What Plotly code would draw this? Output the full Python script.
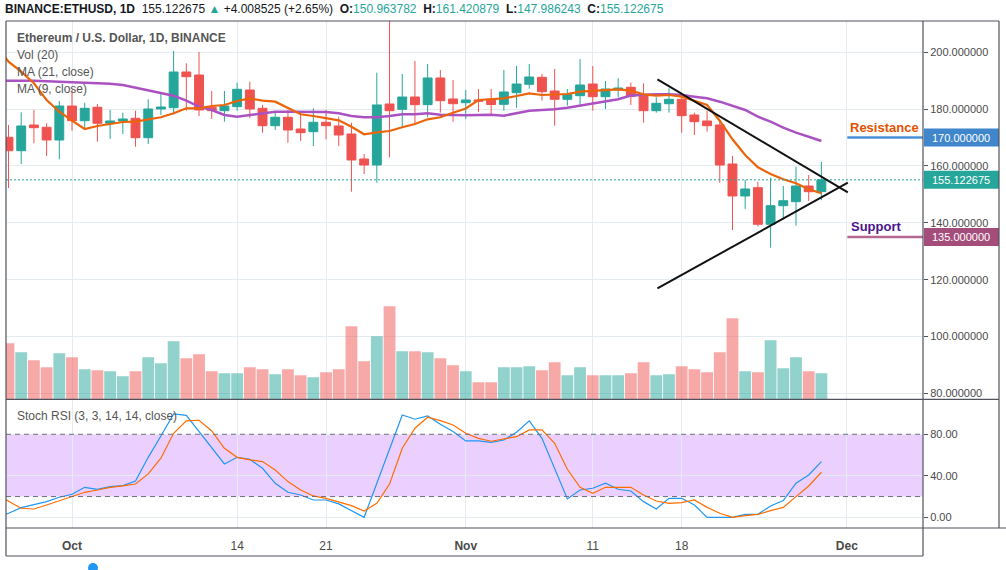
import plotly.graph_objects as go
import pandas as pd

# ---------------- data ----------------
dates = pd.date_range("2019-09-26", "2019-11-29", freq="D")
ind_dates = pd.date_range("2019-09-25", "2019-11-29", freq="D")

open_ = [170.09, 165.37, 174.42, 173.61, 169.14,
         181.10, 175.93, 180.65, 175.02, 175.83, 176.78, 169.95, 180.05, 180.51, 193.07,
         192.01, 180.65, 179.45, 180.86, 186.73, 180.29, 174.17, 177.13, 173.01, 172.06,
         175.37, 174.07, 171.25, 162.45, 160.34, 181.81, 179.94, 184.27, 181.56, 190.96, 183.57,
         182.26, 183.22, 183.46, 181.70, 185.78, 188.74, 191.20, 186.38, 183.46, 184.73,
         188.84, 184.38, 186.84, 187.68, 184.62, 179.45, 181.91, 183.46, 177.94, 175.83,
         174.42, 160.69, 149.44, 152.36, 139.48, 146.02, 147.43, 152.95, 150.963782]
high = [174.42, 178.89, 179.70, 175.02, 182.86,
        186.73, 182.26, 181.81, 179.70, 178.75, 179.45, 183.46, 185.92, 200.46, 196.13,
        200.11, 186.38, 186.38, 189.30, 189.65, 181.46, 179.10, 179.70, 178.89, 180.29,
        179.70, 177.34, 175.23, 164.21, 192.82, 212.00, 192.36, 196.93, 195.88, 193.77, 190.25,
        186.73, 187.08, 187.08, 193.77, 195.18, 195.88, 192.36, 194.12, 187.08, 197.64,
        195.18, 189.90, 190.85, 189.30, 189.09, 184.16, 187.33, 184.62, 178.75, 179.45,
        176.18, 163.51, 155.07, 154.47, 155.87, 152.95, 159.75, 156.82, 161.420879]
low = [152.25, 160.69, 167.98, 163.51, 162.35,
       172.41, 172.90, 168.54, 169.49, 171.25, 166.78, 167.73, 177.94, 178.18, 179.45,
       177.58, 176.53, 175.58, 179.45, 176.78, 171.71, 172.66, 168.19, 168.79, 167.03,
       169.39, 167.03, 150.95, 157.18, 154.12, 163.05, 173.82, 175.02, 177.13, 178.75, 175.58,
       176.53, 179.00, 177.69, 179.45, 180.50, 187.19, 182.97, 174.17, 181.21, 181.10,
       179.45, 180.05, 184.16, 181.46, 175.23, 178.75, 178.75, 171.71, 170.90, 172.06,
       154.12, 137.47, 144.86, 138.64, 131.25, 141.24, 138.99, 147.68, 147.986243]
close = [165.37, 174.07, 173.47, 169.14, 181.10,
         175.93, 180.29, 175.02, 175.83, 176.53, 169.95, 180.05, 180.75, 193.07, 191.41,
         179.70, 179.45, 181.10, 186.98, 180.05, 174.17, 177.13, 172.66, 171.71, 175.37,
         174.17, 170.90, 162.10, 160.34, 181.46, 179.45, 184.27, 181.56, 190.96, 182.97, 181.91,
         183.22, 182.76, 181.63, 186.03, 188.84, 191.31, 186.13, 183.46, 185.22, 188.49,
         184.38, 187.08, 187.44, 184.52, 179.45, 182.05, 183.46, 177.69, 175.58, 174.17,
         160.34, 149.44, 151.90, 139.48, 146.02, 147.78, 152.95, 150.95, 155.122675]
volume = [560, 470, 390, 320, 460,
          420, 300, 290, 280, 230, 280, 420, 360, 580, 410,
          450, 280, 260, 260, 320, 300, 250, 300, 240, 220,
          270, 300, 730, 380, 630, 930, 480, 480, 470, 410, 340,
          280, 170, 170, 320, 320, 330, 290, 370, 240, 320,
          240, 240, 240, 260, 370, 240, 250, 330, 300, 270,
          470, 810, 280, 270, 590, 310, 420, 280, 260]
ma21 = [190.00, 190.00, 190.25, 190.00, 189.79, 189.65,
        189.44, 189.44, 189.30, 188.95, 188.49, 187.54, 186.73, 185.78, 184.73, 182.97,
        180.86, 179.70, 177.94, 177.34, 177.94, 178.75, 179.10, 179.10, 179.10, 179.10,
        178.99, 178.53, 177.58, 177.13, 177.13, 177.58, 178.18, 178.18, 178.53, 178.04, 177.83,
        177.83, 177.94, 178.04, 177.69, 178.53, 179.45, 179.70, 179.94, 180.50, 181.21,
        181.81, 182.62, 183.46, 184.80, 185.10, 185.25, 185.22, 184.97, 184.38, 183.81,
        182.62, 181.21, 179.70, 177.34, 175.58, 173.47, 171.71, 170.30, 168.79]
ma9 = [202.78, 196.69, 193.17, 189.09, 183.21, 179.10,
       175.93, 173.01, 174.07, 174.77, 175.47, 175.58, 176.42, 177.13, 178.53, 180.29,
       180.29, 181.10, 181.46, 182.86, 183.81, 182.97, 182.62, 180.29, 178.18, 177.58,
       176.78, 176.07, 173.82, 171.14, 171.85, 172.31, 173.61, 174.77, 176.42, 177.13, 178.75,
       180.23, 183.22, 183.46, 183.81, 184.62, 185.57, 184.97, 185.22, 185.33, 186.13,
       186.49, 186.73, 186.98, 186.49, 185.22, 184.73, 184.97, 184.38, 182.97, 181.46,
       175.93, 169.39, 163.86, 159.53, 157.18, 155.31, 153.90, 151.79, 150.39]
stoch_k = [0.0, 3.9, 9.3, 11.9, 15.1, 19.3,
           22.2, 28.9, 27.0, 29.6, 30.5, 35.0, 57.8, 78.4, 99.6, 98.3,
           82.6, 67.1, 51.4, 57.8, 55.9, 47.2, 32.8, 24.1, 21.5, 16.7,
           16.7, 12.9, 6.4, 0.0, 32.8, 64.9, 98.6, 94.5, 97.7, 89.6, 82.6,
           73.6, 73.6, 72.3, 74.5, 81.9, 92.9, 76.1, 47.2, 17.7, 26.3,
           28.0, 32.8, 27.0, 25.4, 15.1, 8.0, 18.3, 18.3, 11.9, 0.0,
           0.0, 0.0, 2.9, 2.9, 10.9, 16.1, 32.8, 40.8, 53.7]
stoch_d = [24.5, 15.5, 8.7, 8.0, 11.9, 16.1,
           19.9, 24.1, 26.3, 28.9, 30.2, 32.1, 41.8, 56.9, 81.0, 92.9,
           93.5, 83.2, 66.5, 57.8, 55.3, 53.7, 45.6, 34.4, 26.3, 20.6,
           18.3, 15.1, 11.2, 6.1, 13.5, 32.1, 66.5, 85.8, 96.4, 93.2, 89.0,
           81.0, 76.1, 73.3, 75.2, 77.7, 84.2, 84.2, 71.3, 46.3, 28.9,
           23.1, 28.9, 28.9, 28.9, 21.5, 15.7, 13.5, 14.1, 16.7, 9.6,
           3.9, 0.0, 1.6, 2.9, 6.4, 9.6, 19.9, 30.2, 43.4]

tick_dates = ["2019-10-01", "2019-10-14", "2019-10-21", "2019-11-01",
              "2019-11-11", "2019-11-18", "2019-12-01"]
tick_text = ["<b>Oct</b>", "14", "21", "<b>Nov</b>", "11", "18", "<b>Dec</b>"]
price_ticks = [80, 100, 120, 140, 160, 180, 200]
rsi_ticks = [0, 40, 80]
rsi_tick_text = ["0.00", "40.00", "80.00"]
rsi_band = (20, 80)

last_price = 155.122675
resistance = 170.0
support = 135.0
trend_upper = [("2019-11-16 02:10", 190.5), ("2019-12-01 01:55", 150.7)]
trend_lower = [("2019-11-16 02:10", 116.9), ("2019-12-01 01:55", 154.1)]
level_start = "2019-12-01 01:00"
x_range = ["2019-09-25 19:16", "2019-12-07 00:00"]

# ---------------- style ----------------
FONT = "Liberation Sans, Arial, sans-serif"
GREEN = "#26a69a"
RED = "#ef5350"
GRID = "#e4ecf2"
FRAME = "#50535e"
TXT = "#4a4a4a"

W, H = 1006, 570
L, R, T, B = 6, 923, 21, 528


def px(X):
    return (X - L) / (R - L)


def py(Y):
    return (B - Y) / (B - T)


split = py(399.3)

fig = go.Figure()

vol_colors = ["rgba(38,166,154,0.5)" if c >= o else "rgba(239,83,80,0.5)"
              for o, c in zip(open_, close)]
fig.add_trace(go.Bar(x=dates, y=volume, marker=dict(color=vol_colors, line=dict(width=0)),
                     yaxis="y2", xaxis="x", hoverinfo="skip", showlegend=False))

fig.add_trace(go.Candlestick(
    x=dates, open=open_, high=high, low=low, close=close,
    increasing=dict(line=dict(color=GREEN, width=1), fillcolor=GREEN),
    decreasing=dict(line=dict(color=RED, width=1), fillcolor=RED),
    whiskerwidth=0, yaxis="y", xaxis="x", hoverinfo="skip", showlegend=False))

fig.add_trace(go.Scatter(x=ind_dates, y=ma21, mode="lines",
                         line=dict(color="#ab52c2", width=2.5), yaxis="y",
                         hoverinfo="skip", showlegend=False))
fig.add_trace(go.Scatter(x=ind_dates, y=ma9, mode="lines",
                         line=dict(color="#ec6409", width=2.2), yaxis="y",
                         hoverinfo="skip", showlegend=False))

fig.add_trace(go.Scatter(x=ind_dates, y=stoch_k, mode="lines",
                         line=dict(color="#2196f3", width=1.2), yaxis="y3",
                         hoverinfo="skip", showlegend=False))
fig.add_trace(go.Scatter(x=ind_dates, y=stoch_d, mode="lines",
                         line=dict(color="#ff6d00", width=1.2), yaxis="y3",
                         hoverinfo="skip", showlegend=False))

shapes = []
# stoch band and dashed bounds
shapes.append(dict(type="rect", xref="x", yref="y3", x0=x_range[0], x1=x_range[1],
                   y0=rsi_band[0], y1=rsi_band[1],
                   fillcolor="rgba(153,21,255,0.2)", line=dict(width=0), layer="below"))
for lv in rsi_band:
    shapes.append(dict(type="line", xref="x", yref="y3", x0=x_range[0], x1=x_range[1], y0=lv, y1=lv,
                       line=dict(color="#6f6f7a", width=1, dash="5px,4px"), layer="above"))
# last price dotted line
shapes.append(dict(type="line", xref="x", yref="y", x0=x_range[0], x1=x_range[1],
                   y0=last_price, y1=last_price,
                   line=dict(color=GREEN, width=1, dash="2px,2px"), layer="above"))
# trendlines
for tl in (trend_upper, trend_lower):
    shapes.append(dict(type="line", xref="x", yref="y", x0=tl[0][0], y0=tl[0][1],
                       x1=tl[1][0], y1=tl[1][1], line=dict(color="#111111", width=2), layer="above"))
# resistance / support levels
shapes.append(dict(type="line", xref="x", yref="y", x0=level_start, x1=x_range[1],
                   y0=resistance, y1=resistance, line=dict(color="#4a8fd8", width=2.5), layer="above"))
shapes.append(dict(type="line", xref="x", yref="y", x0=level_start, x1=x_range[1],
                   y0=support, y1=support, line=dict(color="#b56890", width=2.5), layer="above"))
# price label boxes
box_h = 9 / 2.842
for val, col in ((resistance, "#3f86cb"), (last_price, GREEN), (support, "#a44d7b")):
    shapes.append(dict(type="rect", xref="paper", yref="y", x0=px(924), x1=px(999),
                       y0=val - box_h, y1=val + box_h, fillcolor=col, line=dict(width=0),
                       layer="above"))


# frame
def hline(Y, X0, X1):
    shapes.append(dict(type="line", xref="paper", yref="paper", x0=px(X0), x1=px(X1),
                       y0=py(Y), y1=py(Y), line=dict(color=FRAME, width=1.2), layer="above"))


def vline(X, Y0, Y1):
    shapes.append(dict(type="line", xref="paper", yref="paper", x0=px(X), x1=px(X),
                       y0=py(Y0), y1=py(Y1), line=dict(color=FRAME, width=1.2), layer="above"))


hline(21, 6, 999)
hline(399.3, 6, 999)
hline(528, 6, 1006)
hline(556, 6, 923)
vline(6, 21, 556)
vline(923, 21, 556)
vline(999, 21, 528)
# small blue dot at the bottom
shapes.append(dict(type="circle", xref="paper", yref="paper", x0=px(88), x1=px(98),
                   y0=py(563), y1=py(573), fillcolor="#2196f3", line=dict(width=0),
                   layer="above"))

annotations = []


def note(text, X, Y, size=12, color=TXT, xanchor="left", yref="paper", family=FONT):
    annotations.append(dict(text=text, x=px(X), y=(py(Y) if yref == "paper" else Y),
                            xref="paper", yref=yref, xanchor=xanchor, yanchor="middle",
                            showarrow=False, font=dict(size=size, color=color, family=family)))


teal = "<span style='color:#26a69a'>%s</span>"
header = ("<b>BINANCE:ETHUSD, 1D</b>  155.122675 " + teal % "▲" + " +4.008525 (+2.65%)  "
          + "<b>O:</b>" + teal % "150.963782" + "  <b>H:</b>" + teal % "161.420879"
          + "  <b>L:</b>" + teal % "147.986243" + "  <b>C:</b>" + teal % "155.122675")
note(header, 3, 9, size=12, color="#131722")
note("<b>Ethereum / U.S. Dollar, 1D, BINANCE</b>", 15, 38, size=12, color="#555555")
note("Vol (20)", 15, 55, size=12, color="#555555")
note("MA (21, close)", 15, 72, size=12, color="#555555")
note("MA (9, close)", 15, 89, size=12, color="#555555")
note("Stoch RSI (3, 3, 14, 14, close)", 15, 416, size=12, color="#555555")
note("<b>Resistance</b>", 848, 127.7, size=13, color="#e65100")
note("<b>Support</b>", 849, 226.7, size=13, color="#4a148c")
for val, label in ((resistance, "170.000000"), (last_price, "155.122675"), (support, "135.000000")):
    note(label, 930, val, size=11, color="#ffffff", yref="y")

fig.update_layout(
    width=W, height=H,
    margin=dict(l=L, r=W - R, t=T, b=H - B, pad=0),
    paper_bgcolor="white", plot_bgcolor="white",
    showlegend=False, bargap=0.07, boxgap=0.3, boxgroupgap=0.0,
    font=dict(family=FONT, size=11, color=TXT),
    xaxis=dict(type="date", range=x_range, domain=[0, 1],
               anchor="y3", tickvals=tick_dates, ticktext=tick_text, showgrid=True,
               gridcolor=GRID, gridwidth=1, ticks="outside", ticklen=7,
               tickcolor="rgba(0,0,0,0)", tickfont=dict(size=12, color=TXT),
               showline=False, zeroline=False, rangeslider=dict(visible=False), fixedrange=True),
    yaxis=dict(domain=[split, 1], anchor="x", side="right", range=[77.90, 211.01],
               tickvals=price_ticks, tickformat=".6f", ticks="outside", ticklen=4,
               tickcolor=FRAME, tickfont=dict(size=11, color=TXT), showgrid=True,
               gridcolor=GRID, zeroline=False, showline=False, fixedrange=True),
    yaxis2=dict(overlaying="y", anchor="x", range=[0, 3783], visible=False, fixedrange=True),
    yaxis3=dict(domain=[0, split], anchor="x", side="right", range=[-10.3, 113.7],
                tickvals=rsi_ticks, ticktext=rsi_tick_text, ticks="outside", ticklen=4,
                tickcolor=FRAME, tickfont=dict(size=11, color=TXT), showgrid=True,
                gridcolor=GRID, zeroline=False, showline=False, fixedrange=True),
    shapes=shapes, annotations=annotations,
)

fig.write_html("out.html", config={"displayModeBar": False},
               post_script="document.body.style.margin='0px';document.body.style.overflow='hidden';")
